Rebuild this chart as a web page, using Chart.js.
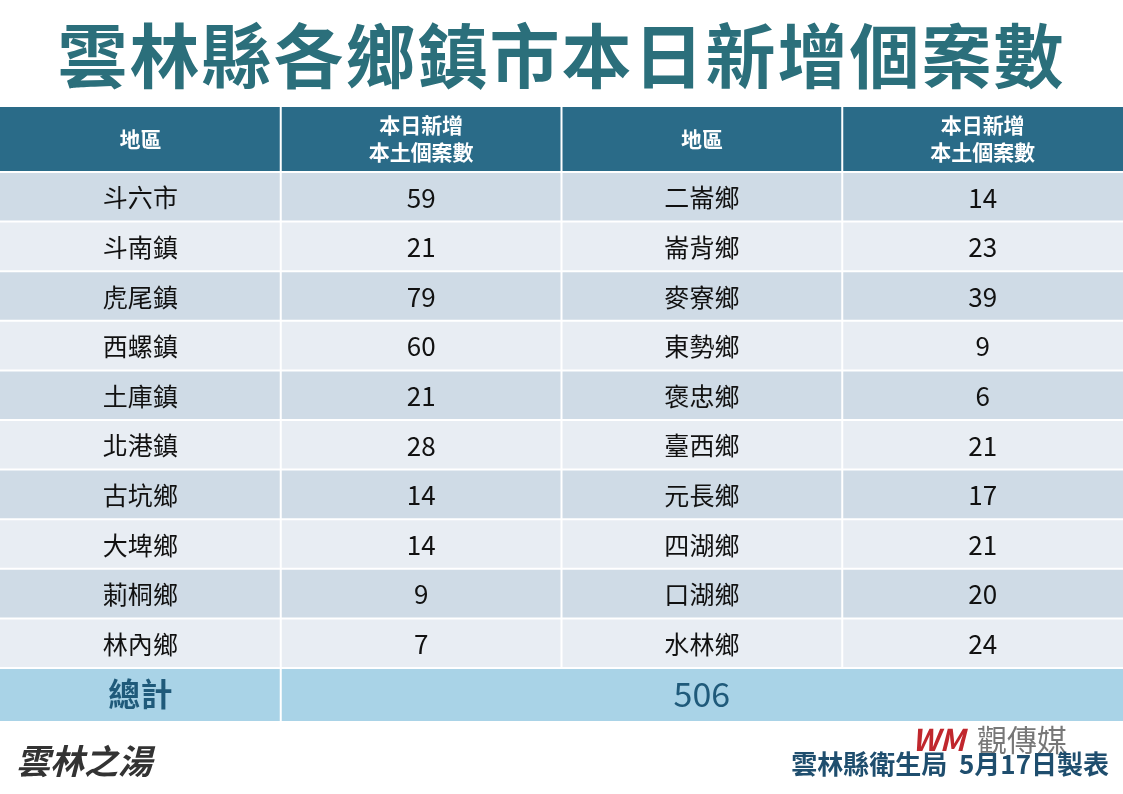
<!DOCTYPE html>
<html>
<head>
<meta charset="utf-8">
<script src="https://cdn.jsdelivr.net/npm/chart.js@4/dist/chart.umd.min.js"></script>
<style>
body { margin: 0; width: 1123px; height: 794px; background: #fff; overflow: hidden; font-family: "Noto Sans CJK TC", sans-serif; position: relative; }
#title { position: absolute; left: 0; width: 1123px; top: 8px; text-align: center; font-size: 70px; font-weight: bold; color: #2b6f7b; letter-spacing: 2px; line-height: 90px; }
#footer { position: absolute; right: 14px; top: 744px; font-size: 26px; font-weight: bold; color: #1f4e6e; }
#brand { position: absolute; left: 912px; top: 716px; font-size: 30px; color: #777; }
#brand span { color: #c0272d; font-weight: bold; font-style: italic; margin-right: 12px; }
#logo { position: absolute; left: 16px; top: 735px; font-size: 34px; font-weight: bold; font-style: italic; color: #333; }
#wrap { position: absolute; left: 0; top: 0; width: 1123px; height: 794px; }
</style>
</head>
<body>
<div id="wrap"><canvas id="table"></canvas></div>
<div id="title">雲林縣各鄉鎮市本日新增個案數</div>
<div id="logo">雲林之湯</div>
<div id="brand"><span>WM</span>觀傳媒</div>
<div id="footer">雲林縣衛生局&nbsp; 5月17日製表</div>
<script>
const header_labels = ['地區', '本日新增\n本土個案數', '地區', '本日新增\n本土個案數'];
const left_towns = ['斗六市', '斗南鎮', '虎尾鎮', '西螺鎮', '土庫鎮', '北港鎮', '古坑鄉', '大埤鄉', '莿桐鄉', '林內鄉'];
const left_counts = [59, 21, 79, 60, 21, 28, 14, 14, 9, 7];
const right_towns = ['二崙鄉', '崙背鄉', '麥寮鄉', '東勢鄉', '褒忠鄉', '臺西鄉', '元長鄉', '四湖鄉', '口湖鄉', '水林鄉'];
const right_counts = [14, 23, 39, 9, 6, 21, 17, 21, 20, 24];
const total_label = '總計';
const total_value = 506;

const tablePlugin = {
	id: 'tablePlugin',
	beforeDatasetsDraw(chart) {
		const ctx = chart.ctx;
		const x = chart.scales.x;
		const y = chart.scales.y;
		const area = chart.chartArea;
		const rowH = (area.bottom - area.top) / left_towns.length;
		const colX = [0, 1, 2, 3, 4].map(v => x.getPixelForValue(v));
		const colC = [0.5, 1.5, 2.5, 3.5].map(v => x.getPixelForValue(v));
		ctx.save();
		ctx.textAlign = 'center';
		ctx.textBaseline = 'middle';
		// header
		const hTop = area.top - 65;
		ctx.fillStyle = '#2a6b88';
		ctx.fillRect(colX[0], hTop, colX[4] - colX[0], 65);
		ctx.fillStyle = '#fff';
		ctx.font = 'bold 21px "Noto Sans CJK TC"';
		header_labels.forEach((t, i) => {
			const lines = t.split('\n');
			lines.forEach((l, j) => {
				ctx.fillText(l, colC[i], hTop + 32 + (j - (lines.length - 1) / 2) * 27);
			});
		});
		// rows
		left_towns.forEach((town, i) => {
			const cy = y.getPixelForValue(i);
			ctx.fillStyle = i % 2 === 0 ? '#cfdbe6' : '#e8edf3';
			ctx.fillRect(colX[0], cy - rowH / 2, colX[4] - colX[0], rowH);
			ctx.fillStyle = '#111';
			ctx.font = '25px "Noto Sans CJK TC"';
			ctx.fillText(town, colC[0], cy + 1);
			ctx.fillText(right_towns[i], colC[2], cy + 1);
			ctx.font = '26px "Noto Sans CJK TC"';
			ctx.fillText(String(left_counts[i]), colC[1], cy + 1);
			ctx.fillText(String(right_counts[i]), colC[3], cy + 1);
		});
		// total row
		const tTop = area.bottom;
		ctx.fillStyle = '#a9d3e7';
		ctx.fillRect(colX[0], tTop, colX[4] - colX[0], 53);
		ctx.fillStyle = '#1f5a7a';
		ctx.font = 'bold 32px "Noto Sans CJK TC"';
		ctx.fillText(total_label, colC[0], tTop + 26);
		ctx.font = '34px "Noto Sans CJK TC"';
		ctx.fillText(String(total_value), (colX[1] + colX[4]) / 2, tTop + 26);
		// separators
		ctx.strokeStyle = '#fff';
		ctx.lineWidth = 2;
		for (let i = 1; i < 4; i++) {
			const bottom = i === 1 ? tTop + 53 : tTop;
			ctx.beginPath(); ctx.moveTo(colX[i], hTop); ctx.lineTo(colX[i], bottom); ctx.stroke();
		}
		for (let i = 0; i <= left_towns.length; i++) {
			const yy = area.top + i * rowH;
			ctx.beginPath(); ctx.moveTo(colX[0], yy); ctx.lineTo(colX[4], yy); ctx.stroke();
		}
		ctx.restore();
	}
};

new Chart(document.getElementById('table'), {
	type: 'bar',
	data: {
		labels: left_towns,
		datasets: [{ data: left_counts.map(() => 0), backgroundColor: 'transparent' }]
	},
	options: {
		indexAxis: 'y',
		responsive: true,
		maintainAspectRatio: false,
		animation: false,
		layout: { padding: { top: 172, bottom: 794 - 668, left: 0, right: 0 } },
		plugins: { legend: { display: false }, tooltip: { enabled: false } },
		scales: {
			x: { type: 'linear', min: 0, max: 4, display: false },
			y: { type: 'category', offset: true, display: false }
		}
	},
	plugins: [tablePlugin]
});
</script>
</body>
</html>
